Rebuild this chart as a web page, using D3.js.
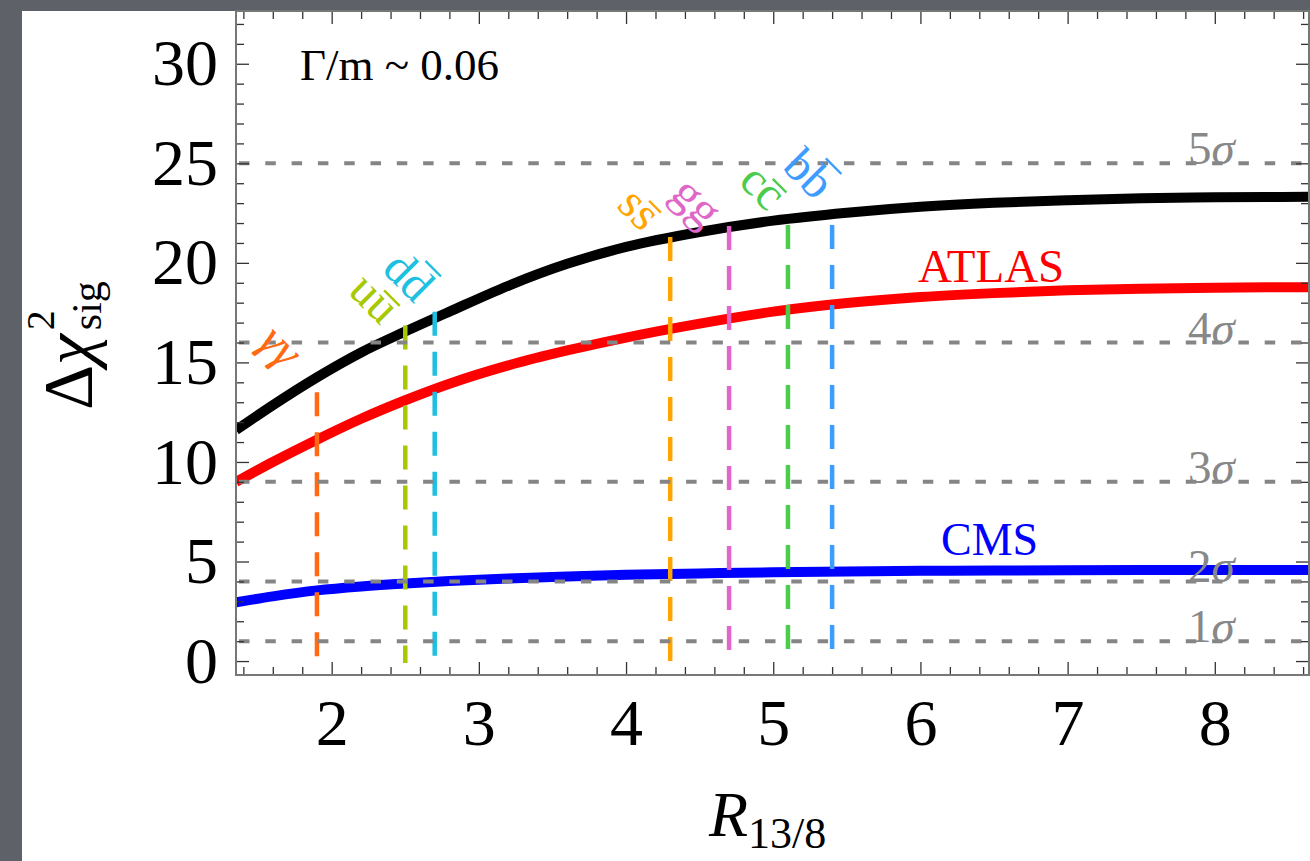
<!DOCTYPE html>
<html>
<head>
<meta charset="utf-8">
<script src="https://cdn.jsdelivr.net/npm/d3@7"></script>
<style>
  body{margin:0;background:#5e6168;}
  svg{display:block}
  text{font-family:"Liberation Serif","Times New Roman",serif}
</style>
</head>
<body>
<script>
// values
const rValues  =[1.35,1.6,1.9,2.2,2.5,2.8,3.2,3.6,4.0,4.5,5.0,5.5,6,6.5,7,7.5,8,8.65]
const combined =[11.6,12.85,14.25,15.5,16.55,17.55,18.85,19.95,20.8,21.55,22.12,22.52,22.82,23.02,23.15,23.24,23.29,23.32]
const atlas    =[9.0,10.0,11.12,12.17,13.1,13.93,14.85,15.6,16.25,16.95,17.55,17.98,18.28,18.48,18.62,18.7,18.75,18.78]
const cms      =[2.95,3.25,3.55,3.75,3.9,4.02,4.15,4.25,4.33,4.4,4.46,4.5,4.53,4.55,4.56,4.57,4.58,4.58]

const sigmas=[1,2,3,4,5]
const xTicks=[2,3,4,5,6,7,8]
const yTicks=[0,5,10,15,20,25,30]

// production channels: R value, where the dashed line stops, label
const channelR   =[1.9,2.5,2.7,4.3,4.7,5.1,5.4]
const channelTop =[13.5,16.85,17.55,21.3,21.85,21.9,21.9]
const channelGlyph=["γ","u","d","s","g","c","b"]
const channelBar =[false,true,true,true,false,true,true]
// label anchor (data units)
const labelR  =[1.65,2.29,2.52,4.09,4.48,4.93,5.24]
const labelChi=[15.8,18.2,19.3,22.7,23.05,23.8,24.45]
const channelColor=["#ff6a13","#a8c800","#1ec0e0","#ffa500","#e066c8","#4ccc4c","#3d9cff"]

const W=1310,H=861
const svg=d3.select("body").append("svg").attr("width",W).attr("height",H)

svg.append("rect").attr("width",W).attr("height",H).attr("fill","#5e6168")
svg.append("rect").attr("x",22).attr("y",11).attr("width",W-22).attr("height",H-11).attr("fill","#fff")

const x=d3.scaleLinear().domain([1.35,8.64]).range([236,1309])
const y=d3.scaleLinear().domain([-0.7,32.65]).range([675,11])

// curves
const line=d3.line().x(d=>x(d[0])).y(d=>y(d[1])).curve(d3.curveMonotoneX)
const curves=[[combined,"#000"],[atlas,"#ff0000"],[cms,"#0000ff"]]
svg.append("clipPath").attr("id","clip").append("rect")
   .attr("x",236).attr("y",11).attr("width",1073).attr("height",664)
curves.forEach(([vals,col])=>{
  svg.append("path")
    .datum(rValues.map((r,i)=>[r,vals[i]]))
    .attr("d",line).attr("fill","none").attr("stroke",col)
    .attr("stroke-width",10).attr("clip-path","url(#clip)")
})

// channel lines
channelR.forEach((r,i)=>{
  svg.append("line")
    .attr("x1",x(r)).attr("x2",x(r)).attr("y1",y(channelTop[i])).attr("y2",y(-0.1))
    .attr("stroke",channelColor[i]).attr("stroke-width",4.5)
    .attr("stroke-dasharray","24,16")
})

// sigma lines
sigmas.forEach(n=>{
  svg.append("line")
    .attr("x1",239).attr("x2",1309).attr("y1",y(n*n)).attr("y2",y(n*n))
    .attr("stroke","#858585").attr("stroke-width",4).attr("stroke-dasharray","10.5,15.8")
  const t=svg.append("text").attr("x",1188).attr("y",y(n*n)+1)
    .attr("font-size",47).attr("fill","#888")
  t.append("tspan").text(n)
  t.append("tspan").attr("font-style","italic").text("σ")
})

// channel labels
channelGlyph.forEach((g,i)=>{
  const grp=svg.append("g")
    .attr("transform",`translate(${x(labelR[i])},${y(labelChi[i])}) rotate(45)`)
  const fs=48, base=15
  const t=grp.append("text").attr("text-anchor","middle").attr("y",base)
    .attr("font-size",fs).attr("fill",channelColor[i])
    .attr("font-style",g=="γ"?"italic":"normal").text(g+g)
  if(channelBar[i]){
    const e=t.node().getExtentOfChar(1)
    const tall=(g=="b"||g=="d")?0.8:0.58
    grp.append("line")
      .attr("x1",e.x+1).attr("x2",e.x+e.width-1)
      .attr("y1",base-tall*fs).attr("y2",base-tall*fs)
      .attr("stroke",channelColor[i]).attr("stroke-width",2.4)
  }
})

// axes
const styleAxis=g=>{
  g.select(".domain").remove()
  g.selectAll(".tick line").attr("stroke","#333").attr("stroke-width",1.3)
  g.selectAll("text").attr("font-size",66).attr("fill","#000")
    .attr("font-family",'"Liberation Serif","Times New Roman",serif')
}
const xMinor=d3.range(7,44).filter(i=>i%5!=0).map(i=>i/5)
const yMinor=d3.range(0,33).filter(i=>i%5!=0)

svg.append("g").attr("transform","translate(0,675)")
  .call(d3.axisBottom(x).tickValues(xTicks).tickSize(-13).tickSizeOuter(0).tickPadding(23).tickFormat(d3.format("d")))
  .call(styleAxis)
svg.append("g").attr("transform","translate(0,675)")
  .call(d3.axisBottom(x).tickValues(xMinor).tickSize(-8).tickSizeOuter(0).tickFormat(""))
  .call(styleAxis)
svg.append("g").attr("transform","translate(0,11)")
  .call(d3.axisTop(x).tickValues(xTicks).tickSize(-13).tickSizeOuter(0).tickFormat(""))
  .call(styleAxis)
svg.append("g").attr("transform","translate(0,11)")
  .call(d3.axisTop(x).tickValues(xMinor).tickSize(-8).tickSizeOuter(0).tickFormat(""))
  .call(styleAxis)
svg.append("g").attr("transform","translate(236,0)")
  .call(d3.axisLeft(y).tickValues(yTicks).tickSize(-13).tickSizeOuter(0).tickPadding(18))
  .call(styleAxis)
svg.append("g").attr("transform","translate(236,0)")
  .call(d3.axisLeft(y).tickValues(yMinor).tickSize(-8).tickSizeOuter(0).tickFormat(""))
  .call(styleAxis)
svg.append("g").attr("transform","translate(1309,0)")
  .call(d3.axisRight(y).tickValues(yTicks).tickSize(-13).tickSizeOuter(0).tickFormat(""))
  .call(styleAxis)
svg.append("g").attr("transform","translate(1309,0)")
  .call(d3.axisRight(y).tickValues(yMinor).tickSize(-8).tickSizeOuter(0).tickFormat(""))
  .call(styleAxis)

svg.append("rect").attr("x",236).attr("y",11).attr("width",1073).attr("height",664)
  .attr("fill","none").attr("stroke","#777").attr("stroke-width",2)

// texts
svg.append("text").attr("x",300).attr("y",80).attr("font-size",45).text("Γ/m ~ 0.06")
svg.append("text").attr("x",918).attr("y",282).attr("font-size",47).attr("fill","#ff0000").text("ATLAS")
svg.append("text").attr("x",941).attr("y",555).attr("font-size",46).attr("fill","#0000ff").text("CMS")

const xt=svg.append("text").attr("x",709).attr("y",836)
xt.append("tspan").attr("font-size",64).attr("font-style","italic").text("R")
xt.append("tspan").attr("font-size",44).attr("dy",12).text("13/8")

// y title, rotated
const yg=svg.append("g").attr("transform","translate(92,410) rotate(-90)")
const ym=yg.append("text").attr("font-size",70)
ym.append("tspan").text("Δ")
ym.append("tspan").attr("font-style","italic").text("χ")
const L=ym.node().getComputedTextLength()
yg.append("text").attr("x",L+4).attr("y",-38).attr("font-size",40).text("2")
yg.append("text").attr("x",L+4).attr("y",9).attr("font-size",42).text("sig")
</script>
</body>
</html>
